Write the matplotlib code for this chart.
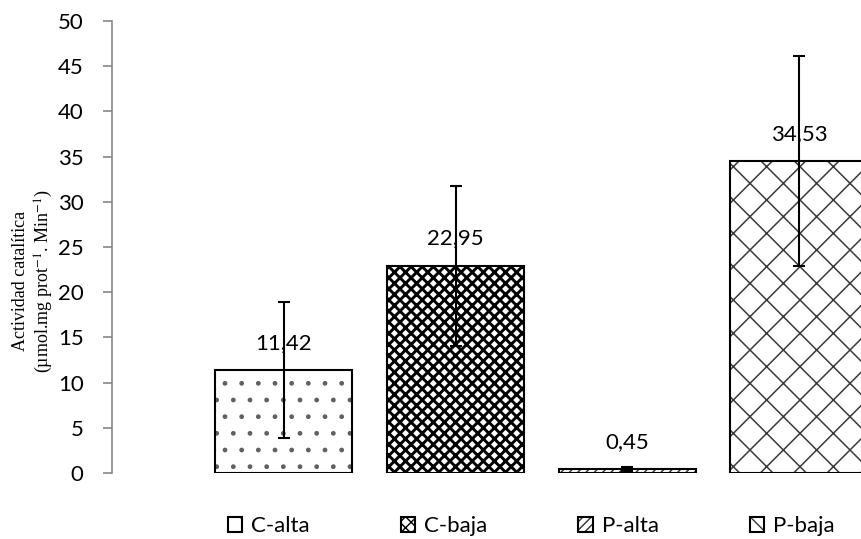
import matplotlib
matplotlib.use("Agg")
import matplotlib.pyplot as plt
from matplotlib.patches import Patch

# Actividad catalítica por grupo (media y desviación)
grupos = ["C-alta", "C-baja", "P-alta", "P-baja"]
actividad = [11.42, 22.95, 0.45, 34.53]
desviacion = [7.5, 8.85, 0.2, 11.65]
etiquetas = ["11,42", "22,95", "0,45", "34,53"]
y_ticks = [0, 5, 10, 15, 20, 25, 30, 35, 40, 45, 50]

# relleno, trama, color y grosor de trama de cada grupo
rellenos = ["white", "white", "white", "white"]
tramas = [".", "xxx", "////", "x"]
color_trama = ["#606060", "black", "#303030", "#3a3a3a"]
grosor_trama = [1.0, 2.1, 1.0, 1.1]

plt.rcParams["mathtext.fontset"] = "stix"

fig = plt.figure(figsize=(8.61, 5.39), dpi=100)
ax = fig.add_axes([0.130, 0.1224, 0.870, 0.8386])

pos = [1, 2, 3, 4]
handles = []
for x, v, fc, h, hc, hw in zip(pos, actividad, rellenos, tramas,
                               color_trama, grosor_trama):
    # la trama toma el color del borde, así que el contorno negro va aparte
    with plt.rc_context({"hatch.linewidth": hw}):
        ax.bar(x, v, width=0.8, color=fc, edgecolor=hc, linewidth=0,
               hatch=h, zorder=2)
        relleno = Patch(facecolor=fc, edgecolor=hc, linewidth=0, hatch=h)
    ax.bar(x, v, width=0.8, facecolor="none", edgecolor="black",
           linewidth=1.5, zorder=2.5)
    handles.append((relleno,
                    Patch(facecolor="none", edgecolor="black", linewidth=1.5)))

ax.errorbar(pos, actividad, yerr=desviacion, fmt="none", ecolor="black",
            elinewidth=1.5, capsize=4.5, capthick=1.5, zorder=4)

for x, v, t in zip(pos, actividad, etiquetas):
    ax.annotate(t, (x, v), xytext=(0, 19.5), textcoords="offset points",
                ha="center", va="center", fontsize=16, family="Lato",
                zorder=3)

ax.set_xlim(0, 4.36)
ax.set_ylim(0, 50)
ax.set_yticks(y_ticks)
ax.set_xticks([])
for s in ["top", "right", "bottom"]:
    ax.spines[s].set_visible(False)
ax.spines["left"].set_color("#868686")
ax.spines["left"].set_linewidth(1.2)
ax.tick_params(axis="y", direction="out", length=6.5, width=1.2,
               color="#868686", pad=14, labelsize=16)
for lab in ax.get_yticklabels():
    lab.set_family("Lato")

fig.text(0.039, 0.478,
         "Actividad catalítica\n(µmol.mg prot$^{-1}$. Min$^{-1}$)",
         rotation=90, ha="center", va="center", multialignment="center",
         fontsize=13, family="Liberation Serif", linespacing=1.2)

fig.legend(handles, grupos, loc="center", bbox_to_anchor=(0.617, 0.024),
           ncol=4, frameon=False, prop={"family": "Lato", "size": 16},
           handlelength=0.65, handleheight=0.65, handletextpad=0.4,
           columnspacing=4.1)

fig.savefig("out.png", dpi=100)
